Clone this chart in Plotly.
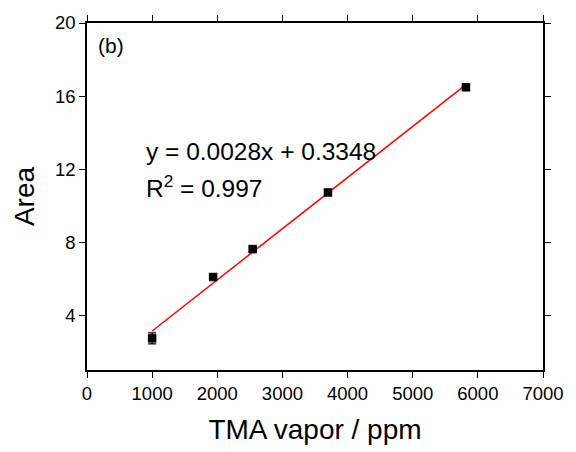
import numpy as np
import plotly.graph_objects as go

# Data
concentration_ppm = [1000, 1936, 2543, 3699, 5817]
area = [2.73, 6.09, 7.62, 10.72, 16.48]
area_err = [0.30, 0.18, 0.12, 0.15, 0.12]

slope = 0.0028
intercept = 0.3348
r_squared = 0.997

x_ticks = [0, 1000, 2000, 3000, 4000, 5000, 6000, 7000]
y_ticks = [4, 8, 12, 16, 20]

FONT = "Arial, Liberation Sans, sans-serif"

fit_x = np.array([min(concentration_ppm), max(concentration_ppm)])
fit_y = slope * fit_x + intercept

fig = go.Figure()
fig.add_trace(go.Scatter(
    x=fit_x, y=fit_y, mode="lines",
    line=dict(color="red", width=1.5), showlegend=False, hoverinfo="skip"))
fig.add_trace(go.Scatter(
    x=concentration_ppm, y=area, mode="markers",
    marker=dict(symbol="square", size=8.5, color="black"),
    error_y=dict(type="data", array=area_err, color="black", thickness=1.2, width=4),
    showlegend=False))

fig.update_layout(
    width=576, height=452,
    margin=dict(l=87, r=28, t=20, b=80),
    paper_bgcolor="white", plot_bgcolor="white",
    font=dict(family=FONT, color="black", size=18),
    xaxis=dict(
        range=[0, 7000], tickvals=x_ticks, ticktext=[str(v) for v in x_ticks],
        ticks="outside", ticklen=6, tickwidth=1.2, tickcolor="black",
        showline=True, linecolor="black", linewidth=1.5, mirror="ticks",
        showgrid=False, zeroline=False,
        tickfont=dict(size=18.5),
        title=dict(text="TMA vapor / ppm", font=dict(size=28), standoff=16),
    ),
    yaxis=dict(
        range=[1, 20], tickvals=y_ticks, ticktext=[str(v) for v in y_ticks],
        ticks="outside", ticklen=6, tickwidth=1.2, tickcolor="black",
        showline=True, linecolor="black", linewidth=1.5, mirror="ticks",
        showgrid=False, zeroline=False,
        tickfont=dict(size=18.5),
        title=dict(text="Area", font=dict(size=28), standoff=12),
    ),
    annotations=[
        dict(text="(b)", x=0, y=0, xref="paper", yref="paper", showarrow=False,
             font=dict(size=21), xanchor="left", yanchor="middle"),
        dict(text=f"y = {slope}x + {intercept}", xref="x", yref="y",
             x=870, y=12.98, showarrow=False, xanchor="left", yanchor="middle",
             font=dict(size=24.5)),
        dict(text=f"R<sup>2</sup> = {r_squared}", xref="x", yref="y",
             x=870, y=11.05, showarrow=False, xanchor="left", yanchor="middle",
             font=dict(size=24.5)),
    ],
)
# place "(b)" in pixel terms converted to paper coords
pw = 576 - 87 - 28
ph = 452 - 20 - 80
fig.layout.annotations[0].x = (96 - 87) / pw
fig.layout.annotations[0].y = 1 - (43 - 20) / ph

fig.write_html("out.html")
